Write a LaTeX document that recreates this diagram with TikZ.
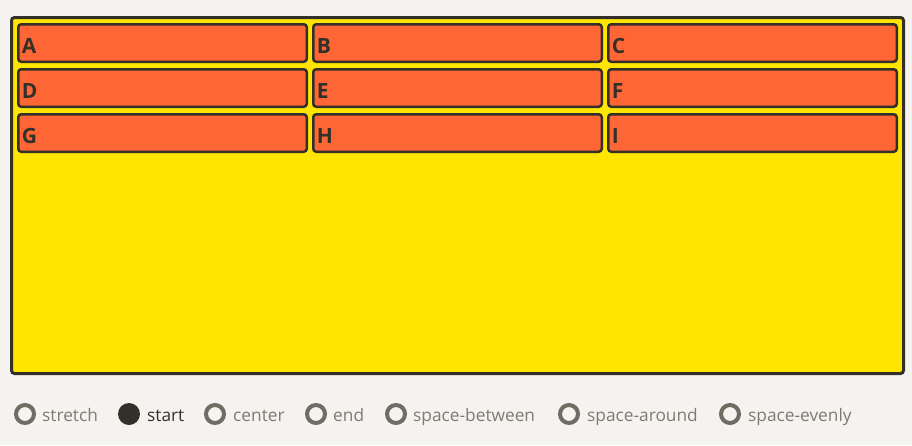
\documentclass[tikz,border=0pt]{standalone}
\usepackage{fontspec}
\setmainfont{Open Sans}
\definecolor{fondo}{HTML}{F4F3EF}
\definecolor{amarillo}{HTML}{FFE500}
\definecolor{naranja}{HTML}{FF6635}
\definecolor{oscuro}{HTML}{333029}
\definecolor{gris}{HTML}{6F6C63}
\definecolor{grisclaro}{HTML}{7E7B72}
\tikzset{
  contenedor/.style={draw=oscuro, fill=amarillo, line width=3pt, rounded corners=3pt},
  celda/.style={draw=oscuro, fill=naranja, line width=2.5pt, rounded corners=3pt,
    minimum width=288.5pt, minimum height=37.5pt, inner sep=0pt, inner xsep=3.5pt,
    text width=281.5pt, align=left, text height=20pt, text depth=0pt,
    font=\fontsize{21}{21}\selectfont\bfseries, text=oscuro},
  radio/.style={draw=gris, fill=fondo, line width=4pt},
  radiosel/.style={fill=oscuro},
  etiqueta/.style={anchor=base west, inner sep=0pt, text=grisclaro,
    font=\fontsize{17.3}{17.3}\selectfont},
}
\begin{document}
\begin{tikzpicture}[x=1pt, y=-1pt]
    % Fondo y limites
    \fill[fondo] (0,0) rectangle (912,445);
    \useasboundingbox (0,0) rectangle (912,445);

    % Contenedor
    \draw[contenedor] (11.5,17.5) rectangle (903.5,373.5);

    % Celdas de la rejilla
    \foreach \letra [count=\i from 0] in {A,B,C,D,E,F,G,H,I} {
        \pgfmathtruncatemacro{\col}{mod(\i,3)}
        \pgfmathtruncatemacro{\fila}{div(\i,3)}
        \node[celda] (celda-\letra) at (162.5+295*\col, 43+45*\fila) {\letra};
    }

    % Opciones
    \foreach \nombre/\cx/\tx in {stretch/25/42, center/215/233, end/316/333,
        space-between/396/413, space-around/569/587, space-evenly/730/748} {
        \draw[radio] (\cx,414) circle (9pt);
        \node[etiqueta] (op-\nombre) at (\tx,421) {\nombre};
    }
    \fill[radiosel] (129,414) circle (11pt);
    \node[etiqueta, text=oscuro] (op-start) at (147,421) {start};
\end{tikzpicture}
\end{document}
